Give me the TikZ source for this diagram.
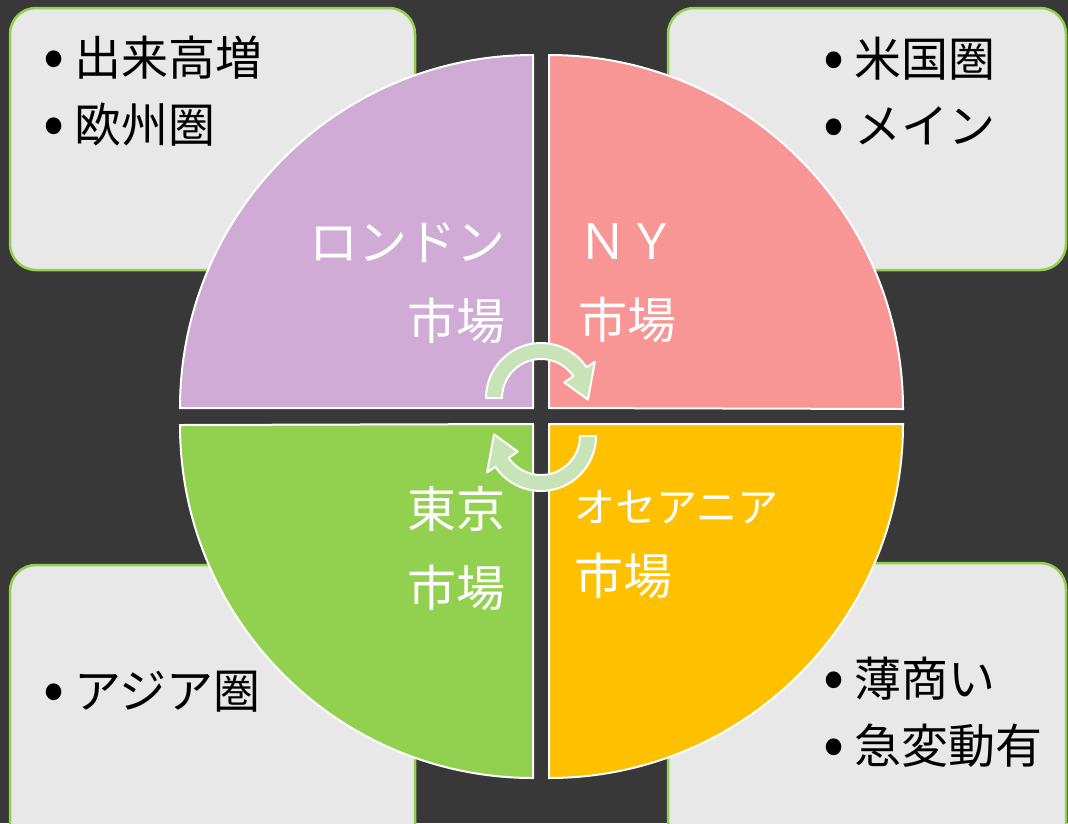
\documentclass[tikz,border=0pt]{standalone}
\usepackage{fontspec}
\setmainfont{Noto Sans CJK JP}
\usepackage{xcolor}
\usetikzlibrary{positioning,calc}

\definecolor{bgdark}{HTML}{383838}
\definecolor{boxgray}{HTML}{E8E8E8}
\definecolor{boxline}{HTML}{92D050}
\definecolor{londonpurple}{HTML}{D0ABD6}
\definecolor{nypink}{HTML}{F79694}
\definecolor{tokyogreen}{HTML}{92D050}
\definecolor{oceaniaorange}{HTML}{FFC000}
\definecolor{arrowgreen}{HTML}{C8E3B8}

% bullet for the box lists
\newcommand{\boxbullet}{\raisebox{-2pt}{\fontsize{62}{62}\selectfont•}\hspace{10pt}}

\tikzset{
  infobox/.style={fill=boxgray, draw=boxline, line width=2.5pt, rounded corners=26pt},
  quarter/.style={draw=white, line width=2pt},
  infotext/.style={text=black, align=left, font=\fontsize{47}{67}\selectfont},
  markettext/.style={text=white, font=\fontsize{49}{79}\selectfont},
  cyclearrow/.style={fill=arrowgreen, draw=white, line width=2pt, line join=round}
}

\begin{document}
\begin{tikzpicture}[x=1pt,y=-1pt]
    % Background
    \fill[bgdark] (0,0) rectangle (1068,823);
    \useasboundingbox (0,0) rectangle (1068,823);
    \clip (0,0) rectangle (1068,823);

    % Info boxes behind the circle
    \draw[infobox] (10,8) rectangle (415,270);
    \draw[infobox] (668,8) rectangle (1066,270);
    \draw[infobox] (10,565) rectangle (415,850);
    \draw[infobox] (668,563) rectangle (1066,850);

    % Quarter circles
    \draw[quarter, fill=londonpurple] (533,408) -- (180,408) arc[start angle=180, end angle=270, radius=353] -- cycle;
    \draw[quarter, fill=nypink] (549,408) -- (549,55) arc[start angle=270, end angle=360, radius=354] -- cycle;
    \draw[quarter, fill=oceaniaorange] (549,424) -- (903,424) arc[start angle=0, end angle=90, radius=354] -- cycle;
    \draw[quarter, fill=tokyogreen] (533,424) -- (533,778) arc[start angle=90, end angle=180, radius=353] -- cycle;

    % Cycle arrows
    \begin{scope}[shift={(541,398)}]
        \draw[cyclearrow] (180:55) arc[start angle=180, end angle=326, radius=55] -- (326:65) -- (2:47)
            -- (326:28) -- (326:39) arc[start angle=326, end angle=180, radius=39] -- cycle;
    \end{scope}
    \begin{scope}[shift={(541,436)}, rotate=180]
        \draw[cyclearrow] (180:55) arc[start angle=180, end angle=326, radius=55] -- (326:65) -- (2:47)
            -- (326:28) -- (326:39) arc[start angle=326, end angle=180, radius=39] -- cycle;
    \end{scope}

    % Market labels
    \node[markettext, align=right, anchor=east] (london) at (509,283) {ロンドン\\市場};
    \node[markettext, align=left, anchor=west] (ny) at (575,283) {ＮＹ\\市場};
    \node[markettext, align=right, anchor=east] (tokyo) at (509,548) {東京\\市場};
    \node[markettext, align=left, anchor=west, font=\fontsize{49}{72}\selectfont] (oceania) at (571,544)
        {{\fontsize{41}{72}\selectfont オセアニア}\\市場};

    % Box texts
    \node[infotext, anchor=west] (londoninfo) at (40,91) {\boxbullet 出来高増\\\boxbullet 欧州圏};
    \node[infotext, anchor=west] (nyinfo) at (820,91) {\boxbullet 米国圏\\\boxbullet メイン};
    \node[infotext, anchor=west] (tokyoinfo) at (40,692) {\boxbullet アジア圏};
    \node[infotext, anchor=west] (oceaniainfo) at (820,712) {\boxbullet 薄商い\\\boxbullet 急変動有};
\end{tikzpicture}
\end{document}
